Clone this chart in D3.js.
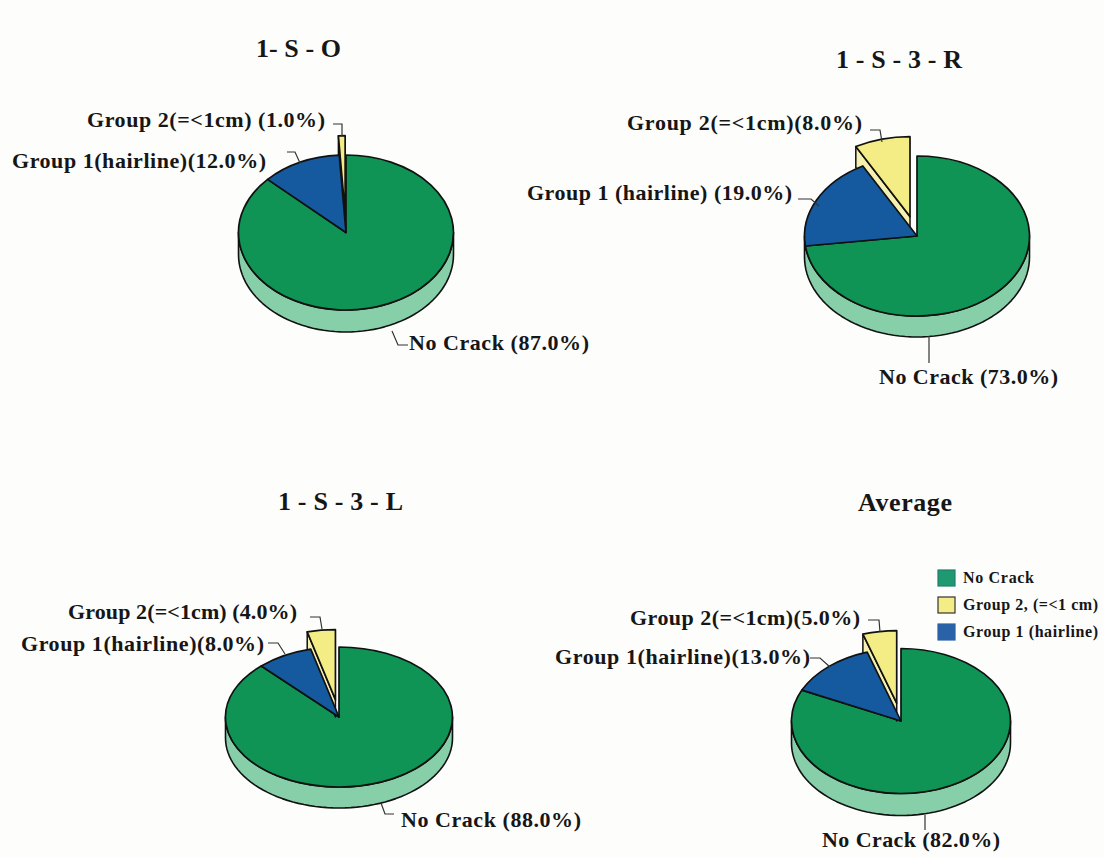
<!DOCTYPE html>
<html>
<head>
<meta charset="utf-8">
<script src="https://cdn.jsdelivr.net/npm/d3@7"></script>
<style>
  html, body { margin: 0; padding: 0; background: #fdfdfb; }
  svg { display: block; }
  text { font-family: "Liberation Serif", serif; font-weight: bold; fill: #161616; }
</style>
</head>
<body>
<script>
// Crack severity shares for each specimen, in percent
const panelTitles = ["1- S - O", "1 - S - 3 - R", "1 - S - 3 - L", "Average"];
const noCrack = [87, 73, 88, 82];
const group1 = [12, 19, 8, 13];
const group2 = [1, 8, 4, 5];
const noCrackLabels = ["No Crack (", "No Crack (", "No Crack (", "No Crack ("];
const group1Labels = ["Group 1(hairline)(", "Group 1 (hairline) (", "Group 1(hairline)(", "Group 1(hairline)("];
const group2Labels = ["Group 2(=<1cm) (", "Group 2(=<1cm)(", "Group 2(=<1cm) (", "Group 2(=<1cm)("];
const legendLabels = ["No Crack", "Group 2, (=<1 cm)", "Group 1 (hairline)"];

// Ellipse geometry of each tilted pie
const pieLayout = [
  { cx: 346, cy: 232.5, rx: 107.5, ry: 77.5, depth: 22 },
  { cx: 917, cy: 236, rx: 112.5, ry: 80, depth: 21 },
  { cx: 339, cy: 717, rx: 113.5, ry: 70, depth: 21 },
  { cx: 901, cy: 721, rx: 109.5, ry: 72.5, depth: 22 }
];
// Title and callout placement: [start x, baseline, width]
const titleLayout = [[256, 57, 85], [836, 68, 126], [278, 510, 125], [858, 511, 94]];
const noCrackLayout = [[409, 350, 180], [879, 384, 179], [401, 827, 180], [822, 847, 178]];
const group1Layout = [[12, 168, 254], [527, 200, 265], [21, 651, 243], [555, 664, 255]];
const group2Layout = [[87, 127, 238], [627, 130, 235], [68, 619, 229], [630, 625, 230]];
// Callout leader polylines
const noCrackLeaders = [
  [[408, 345], [398, 345], [392, 331]],
  [[929, 336], [929, 363]],
  [[394, 814], [385, 814], [381, 803]],
  [[925, 815], [925, 830]]
];
const group1Leaders = [
  [[287, 152], [295, 152], [300, 163]],
  [[798, 199], [811, 199], [819, 206]],
  [[268, 643], [278, 643], [285, 654]],
  [[810, 658], [820, 658], [830, 667]]
];
const group2Leaders = [
  [[333, 124], [342, 124], [342, 136]],
  [[870, 130], [880, 130], [882, 142]],
  [[310, 617], [320, 617], [322, 629]],
  [[868, 620], [879, 620], [880, 632]]
];

const colors = { noCrack: "#0f9455", side: "#86cfa9", group1: "#15599f", group2: "#f4ec84", wall: "#f6f1b0" };
const explode = 0.25;

const svg = d3.select("body").append("svg").attr("width", 1104).attr("height", 857);

const pie = d3.pie().sort(null).value(d => d);
const arc = d3.arc().innerRadius(0).outerRadius(1);
const leaderLine = d3.line();

function ellipsePoint(p, angle) {
  return [p.rx * Math.sin(angle), -p.ry * Math.cos(angle)];
}

panelTitles.forEach((title, i) => {
  const p = pieLayout[i];
  const [noCrackArc, group1Arc, group2Arc] = pie([noCrack[i], group1[i], group2[i]]);
  const g = svg.append("g").attr("transform", `translate(${p.cx},${p.cy})`);

  // Rim of the cylinder, visible along the lower half of the ellipse
  const rimAngles = d3.range(Math.PI / 2, 3 * Math.PI / 2 + 0.001, Math.PI / 60);
  const rim = rimAngles.map(a => ellipsePoint(p, a))
    .concat(rimAngles.slice().reverse().map(a => {
      const [x, y] = ellipsePoint(p, a);
      return [x, y + p.depth];
    }));
  g.append("path")
    .attr("d", d3.line()(rim) + "Z")
    .attr("fill", colors.side)
    .attr("stroke", "#111")
    .attr("stroke-width", 1.6)
    .attr("stroke-linejoin", "round");

  const face = (d, fill, dx, dy) => g.append("path")
    .attr("d", arc(d))
    .attr("transform", `translate(${dx},${dy}) scale(${p.rx},${p.ry})`)
    .attr("fill", fill)
    .attr("stroke", "#111")
    .attr("stroke-width", 1.7)
    .attr("stroke-linejoin", "round")
    .attr("vector-effect", "non-scaling-stroke");

  face(noCrackArc, colors.noCrack, 0, 0);

  // The pulled-out Group 2 wedge shows a cut wall, which passes behind Group 1
  // and stops level with the pie centre
  const mid = (group2Arc.startAngle + group2Arc.endAngle) / 2;
  const [offX, offY] = ellipsePoint(p, mid).map(v => v * explode);
  const [outerX, outerY] = ellipsePoint(p, group2Arc.startAngle);
  const wall = [
    [offX, offY],
    [offX + outerX, offY + outerY],
    [offX + outerX, offY + outerY + p.depth],
    [offX, Math.min(offY + p.depth, 0)]
  ];
  g.append("path")
    .attr("d", d3.line()(wall) + "Z")
    .attr("fill", colors.wall)
    .attr("stroke", "#111")
    .attr("stroke-width", 1.5)
    .attr("stroke-linejoin", "round");

  face(group1Arc, colors.group1, 0, 0);
  face(group2Arc, colors.group2, offX, offY);

  // Callouts and title
  const callouts = [
    [noCrackLabels[i] + noCrack[i].toFixed(1) + "%)", noCrackLayout[i], noCrackLeaders[i]],
    [group1Labels[i] + group1[i].toFixed(1) + "%)", group1Layout[i], group1Leaders[i]],
    [group2Labels[i] + group2[i].toFixed(1) + "%)", group2Layout[i], group2Leaders[i]]
  ];
  callouts.forEach(([label, [x, y, w], leader]) => {
    svg.append("path")
      .attr("d", leaderLine(leader))
      .attr("fill", "none")
      .attr("stroke", "#333")
      .attr("stroke-width", 1.2);
    svg.append("text")
      .attr("x", x).attr("y", y)
      .attr("font-size", 22)
      .attr("textLength", w)
      .attr("lengthAdjust", "spacing")
      .text(label);
  });
  const [tx, ty, tw] = titleLayout[i];
  svg.append("text")
    .attr("x", tx).attr("y", ty)
    .attr("font-size", 26)
    .attr("textLength", tw)
    .attr("lengthAdjust", "spacing")
    .text(title);
});

// Legend beside the Average pie
const legendSwatches = ["#1f9a70", "#f4ec84", "#2a62a8"];
const legendStrokes = ["#1f7f70", "#333", "#2a62a8"];
const legendY = d3.scalePoint().domain(legendLabels).range([578, 632]);
const legend = svg.append("g");
legendLabels.forEach((label, i) => {
  const y = legendY(label);
  legend.append("rect")
    .attr("x", 938).attr("y", y - 8)
    .attr("width", 17).attr("height", 16)
    .attr("fill", legendSwatches[i])
    .attr("stroke", legendStrokes[i])
    .attr("stroke-width", 1.2);
  legend.append("text")
    .attr("x", 963).attr("y", y + 5)
    .attr("font-size", 16)
    .attr("textLength", [71, 135, 135][i])
    .attr("lengthAdjust", "spacing")
    .attr("fill", "#2a2a2a")
    .text(label);
});
</script>
</body>
</html>
